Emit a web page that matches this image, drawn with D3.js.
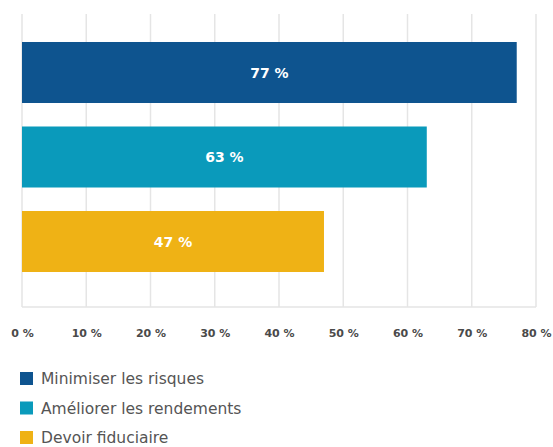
<!DOCTYPE html>
<html>
<head>
<meta charset="utf-8">
<script src="https://cdn.jsdelivr.net/npm/d3@7"></script>
<style>
  html, body { margin: 0; padding: 0; background: #fff; }
  svg { display: block; }
</style>
</head>
<body>
<svg id="chart" width="553" height="447"></svg>
<script>
// Motivations, share of respondents (%)
const categories = ["Minimiser les risques", "Améliorer les rendements", "Devoir fiduciaire"];
const values = [77, 63, 47];
const colors = ["#0e548f", "#0a9abb", "#efb215"];
const tickValues = [0, 10, 20, 30, 40, 50, 60, 70, 80];

const svg = d3.select("#chart");
const plot = { left: 22, right: 536, top: 14, bottom: 307 };
const font = "'DejaVu Sans', sans-serif";

const x = d3.scaleLinear().domain([0, 80]).range([plot.left, plot.right]);
const y = d3.scaleBand()
  .domain(categories)
  .range([30.25, 283.75])
  .paddingInner(0.278)
  .paddingOuter(0.139);

// vertical gridlines
svg.append("g")
  .selectAll("line")
  .data(tickValues)
  .join("line")
  .attr("x1", d => x(d)).attr("x2", d => x(d))
  .attr("y1", plot.top).attr("y2", plot.bottom)
  .attr("stroke", "#e5e5e5")
  .attr("stroke-width", 1.5);

// baseline
svg.append("line")
  .attr("x1", plot.left).attr("x2", plot.right)
  .attr("y1", plot.bottom).attr("y2", plot.bottom)
  .attr("stroke", "#e5e5e5")
  .attr("stroke-width", 1.5);

// bars
svg.append("g")
  .selectAll("rect")
  .data(categories)
  .join("rect")
  .attr("x", x(0))
  .attr("y", d => y(d))
  .attr("width", (d, i) => x(values[i]) - x(0))
  .attr("height", y.bandwidth())
  .attr("fill", (d, i) => colors[i]);

// value labels
svg.append("g")
  .selectAll("text")
  .data(categories)
  .join("text")
  .attr("x", (d, i) => (x(0) + x(values[i])) / 2)
  .attr("y", d => y(d) + y.bandwidth() / 2)
  .attr("dy", "0.36em")
  .attr("text-anchor", "middle")
  .attr("fill", "#ffffff")
  .attr("font-family", font)
  .attr("font-weight", 700)
  .attr("font-size", 14)
  .text((d, i) => values[i] + " %");

// x axis
const xAxis = d3.axisBottom(x)
  .tickValues(tickValues)
  .tickSize(0)
  .tickPadding(0)
  .tickFormat(d => d + " %");

const ax = svg.append("g")
  .attr("transform", `translate(0, ${337})`)
  .call(xAxis);
ax.select(".domain").remove();
ax.selectAll("text")
  .attr("dy", 0)
  .attr("y", 0)
  .attr("fill", "#4a4a4a")
  .attr("font-family", font)
  .attr("font-weight", 700)
  .attr("font-size", 11);

// legend
const legend = svg.append("g")
  .selectAll("g")
  .data(categories)
  .join("g")
  .attr("transform", (d, i) => `translate(20, ${372 + i * 29.5})`);

legend.append("rect")
  .attr("width", 13)
  .attr("height", 13)
  .attr("fill", (d, i) => colors[i]);

legend.append("text")
  .attr("x", 21)
  .attr("y", 6.5)
  .attr("dy", "0.36em")
  .attr("fill", "#555555")
  .attr("font-family", font)
  .attr("font-size", 15.5)
  .text(d => d);
</script>
</body>
</html>
